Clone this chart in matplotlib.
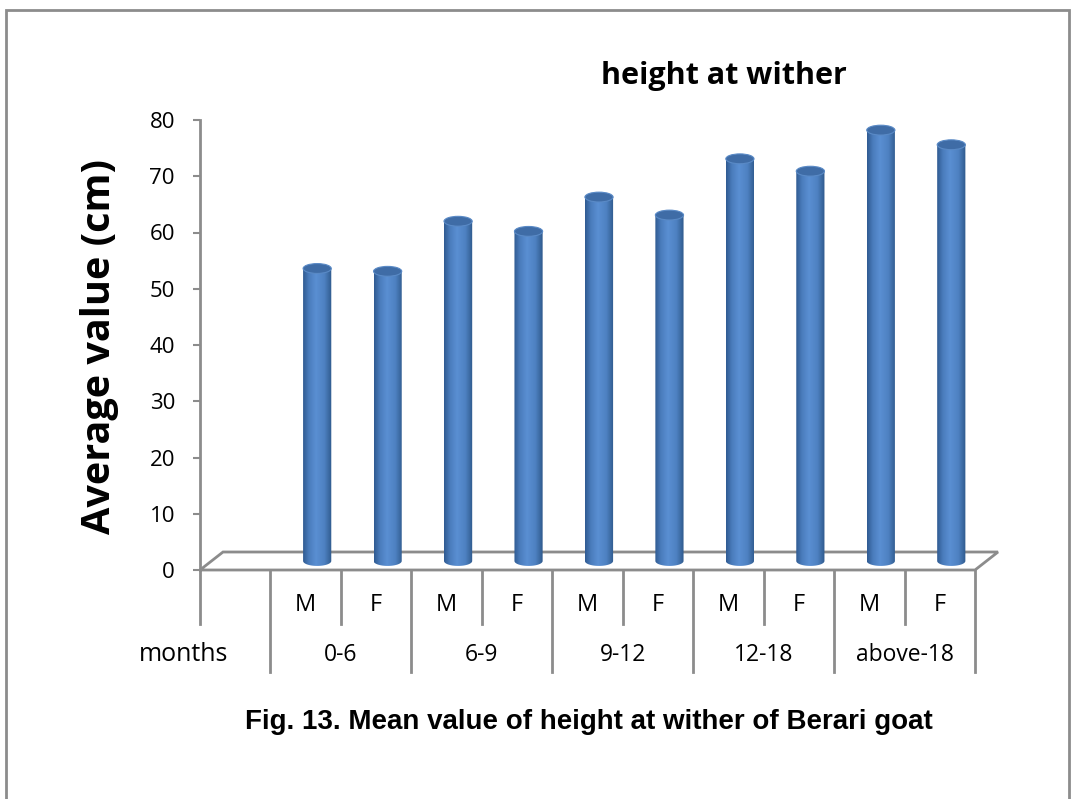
import numpy as np
import matplotlib
matplotlib.use("Agg")
import matplotlib.pyplot as plt
from matplotlib.patches import Rectangle, Ellipse, Polygon, PathPatch
from matplotlib.path import Path
from matplotlib.colors import LinearSegmentedColormap

# data
sex = ["M", "F", "M", "F", "M", "F", "M", "F", "M", "F"]
age_groups = ["0-6", "6-9", "9-12", "12-18", "above-18"]
height = [52.0, 51.5, 60.4, 58.6, 64.7, 61.5, 71.5, 69.3, 76.6, 74.0]
yticks = [0, 10, 20, 30, 40, 50, 60, 70, 80]

GRAY = "#8c8c8c"
CAL = "Open Sans"

fig = plt.figure(figsize=(10.72, 7.99), dpi=100)

# outer chart border
fig.patches.append(Rectangle((6 / 1072, -0.02), 1063 / 1072, 1.02 - 10 / 799,
                             transform=fig.transFigure, fill=False,
                             edgecolor=GRAY, lw=2))

# plot area: x from 200px to 975px, y 0 at 570px, 80 at 120px
ax = fig.add_axes([200 / 1072, (799 - 570) / 799, 775 / 1072, 450 / 799])
ax.set_xlim(-1.5, 9.5)
ax.set_ylim(0, 80)
ax.patch.set_alpha(0)
for s in ["top", "right", "bottom"]:
    ax.spines[s].set_visible(False)
ax.spines["left"].set_color(GRAY)
ax.spines["left"].set_linewidth(2)
ax.set_xticks([])
ax.set_yticks(yticks)
ax.tick_params(axis="y", direction="out", length=5, width=1.5, color=GRAY,
               pad=13, labelsize=16)
for lab in ax.get_yticklabels():
    lab.set_fontfamily(CAL)

# 3d floor
ddx = 23 / 70.45
ddy = 18 / 5.625
floor = Polygon([(-1.5, 0), (9.5, 0), (9.5 + ddx, ddy), (-1.5 + ddx, ddy)],
                closed=True, facecolor="white", edgecolor=GRAY, lw=2,
                clip_on=False, zorder=1)
ax.add_patch(floor)

# cylinders
cmap = LinearSegmentedColormap.from_list(
    "cyl", [(0, "#305b92"), (0.2, "#4a7cbc"), (0.45, "#5a8fd2"),
            (0.75, "#4e81c1"), (1, "#2f5a8d")])
grad = np.linspace(0, 1, 64).reshape(1, -1)
w = 0.40
eh = 1.75
for i, v in enumerate(height):
    xc = i + ddx / 2
    yb = ddy / 2
    yt = v + ddy / 2
    t = np.linspace(np.pi, 2 * np.pi, 30)
    verts = [(xc - w / 2, yt), (xc - w / 2, yb)]
    verts += list(zip(xc + w / 2 * np.cos(t), yb + eh / 2 * np.sin(t)))
    verts += [(xc + w / 2, yt), (xc - w / 2, yt)]
    codes = [Path.MOVETO] + [Path.LINETO] * (len(verts) - 2) + [Path.CLOSEPOLY]
    body = PathPatch(Path(verts, codes), facecolor="none", edgecolor="none",
                     clip_on=False)
    ax.add_patch(body)
    im = ax.imshow(grad, extent=[xc - w / 2, xc + w / 2, yb - eh / 2, yt],
                   cmap=cmap, aspect="auto", zorder=3, interpolation="bilinear")
    im.set_clip_path(body)
    ax.add_patch(Ellipse((xc, yt), w, eh, facecolor="#3f6ca6",
                         edgecolor="#5a8ac6", lw=0.8, zorder=4))

ax.set_xlim(-1.5, 9.5)
ax.set_ylim(0, 80)

# category table below the floor
row1 = -9.6
row2 = -18.1
ax.plot([-1.5, -1.5], [0, row1], color=GRAY, lw=2, clip_on=False)
for k in range(len(age_groups) + 1):
    xg = -0.5 + 2 * k
    ax.plot([xg, xg], [0, row2], color=GRAY, lw=2, clip_on=False)
for k in range(len(age_groups)):
    xs = 0.5 + 2 * k
    ax.plot([xs, xs], [0, row1], color=GRAY, lw=2, clip_on=False)
for i, s in enumerate(sex):
    ax.text(i, -6.2, s, ha="center", va="center", fontsize=17,
            family=CAL, clip_on=False)
for k, g in enumerate(age_groups):
    ax.text(0.5 + 2 * k, -15.1, g, ha="center", va="center", fontsize=16.5,
            family=CAL, clip_on=False)
ax.text(-1.1, -15.1, "months", ha="right", va="center", fontsize=18,
        family=CAL, clip_on=False)

# titles
fig.text(724 / 1072, 1 - 76 / 799, "height at wither", ha="center",
         va="center", fontsize=22, fontweight="bold", family=CAL)
fig.text(100 / 1072, 1 - 347 / 799, "Average value (cm)", ha="center",
         va="center", rotation=90, fontsize=28.5, fontweight="bold", family=CAL)
fig.text(589 / 1072, 1 - 722 / 799,
         "Fig. 13. Mean value of height at wither of Berari goat",
         ha="center", va="center", fontsize=20, fontweight="bold",
         family="Liberation Sans")

fig.savefig("out.png", dpi=100)
